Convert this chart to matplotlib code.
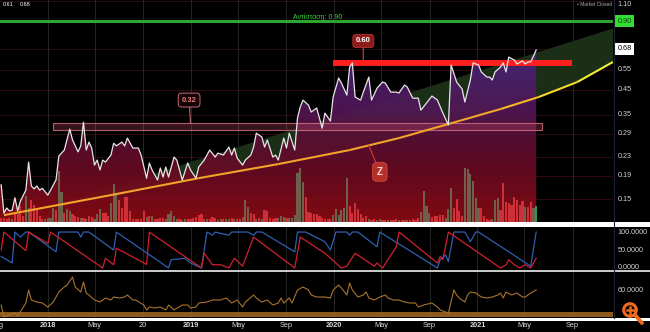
import numpy as np
import pandas as pd
import matplotlib
matplotlib.use("Agg")
import matplotlib.pyplot as plt
import matplotlib.dates as mdates
from matplotlib.colors import LinearSegmentedColormap
from matplotlib.patches import Polygon, Rectangle, Circle
from matplotlib.collections import LineCollection
from matplotlib.transforms import blended_transform_factory

plt.rcParams['font.family'] = ['Liberation Sans', 'DejaVu Sans']

# weekly chart, week 0 = first bar
start = pd.Timestamp("2017-09-04")

# close price (key weekly points)
price_wk = [0, 1, 2, 3, 4, 5, 6, 7, 9, 10, 11, 12, 13, 14, 15, 17, 18, 20, 21, 23,
            25, 26, 28, 29, 30, 31, 32, 33, 34, 35, 36, 37, 38, 40, 41, 42, 44, 45, 46, 48,
            50, 51, 53, 54, 55, 57, 58, 59, 60, 61, 63, 64, 66, 68, 69, 71, 72, 74, 76, 78,
            79, 81, 83, 84, 85, 86, 88, 89, 91, 92, 93, 95, 96, 97, 99, 100, 101, 103, 104, 105,
            107, 108, 109, 110, 112, 113, 115, 117, 118, 120, 121, 123, 124, 126, 127, 128, 129, 131, 132, 134,
            135, 137, 139, 140, 142, 144, 145, 147, 148, 150, 152, 153, 155, 157, 159, 161, 163, 164, 166, 168,
            169, 171, 172, 174, 175, 177, 178, 179, 180, 182, 183, 184, 185, 187, 188, 190, 191, 192, 193, 194,
            195]
price = [0.173, 0.130, 0.137, 0.133, 0.134, 0.152, 0.133, 0.147, 0.164, 0.2175,
         0.171, 0.166, 0.171, 0.164, 0.167, 0.156, 0.164, 0.182, 0.231, 0.2455,
         0.303, 0.272, 0.241, 0.256, 0.325, 0.2455, 0.266, 0.2505, 0.211, 0.222,
         0.201, 0.222, 0.2175, 0.2335, 0.263, 0.256, 0.266, 0.256, 0.277, 0.2505,
         0.2505, 0.2335, 0.185, 0.2154, 0.201, 0.1816, 0.205, 0.187, 0.207, 0.187,
         0.2288, 0.222, 0.1816, 0.2154, 0.201, 0.185, 0.207, 0.222, 0.2455, 0.2288,
         0.238, 0.2335, 0.253, 0.2335, 0.2505, 0.2265, 0.211, 0.222, 0.2335, 0.253,
         0.291, 0.280, 0.253, 0.2716, 0.2288, 0.2335, 0.222, 0.277, 0.2505, 0.291,
         0.2455, 0.339, 0.379, 0.406, 0.386, 0.360, 0.375, 0.306, 0.356, 0.329,
         0.419, 0.507, 0.482, 0.427, 0.566, 0.590, 0.419, 0.406, 0.440, 0.512,
         0.406, 0.458, 0.487, 0.482, 0.440, 0.440, 0.436, 0.4725, 0.463, 0.414,
         0.414, 0.367, 0.394, 0.423, 0.406, 0.356, 0.316, 0.578, 0.487, 0.454,
         0.398, 0.497, 0.590, 0.578, 0.539, 0.512, 0.512, 0.497, 0.539, 0.566,
         0.590, 0.539, 0.626, 0.608, 0.584, 0.602, 0.584, 0.596, 0.596, 0.632,
         0.672]

# weekly volume, week 0..195
volume = [4, 4, 3, 4, 3, 9, 8, 16, 6, 26,
          14, 22, 17, 12, 6, 3, 3, 4, 4, 14,
          12, 51, 30, 9, 13, 11, 8, 6, 5, 4,
          4, 3, 6, 5, 3, 8, 13, 9, 9, 6,
          19, 38, 29, 22, 14, 25, 25, 11, 3, 3,
          3, 3, 11, 5, 6, 6, 3, 3, 4, 4,
          3, 8, 11, 6, 3, 3, 2, 3, 3, 3,
          4, 5, 7, 8, 3, 3, 3, 5, 4, 2,
          3, 3, 3, 3, 4, 3, 3, 3, 5, 22,
          15, 9, 8, 3, 4, 3, 12, 11, 4, 3,
          4, 4, 6, 5, 4, 4, 4, 7, 49, 54,
          40, 25, 10, 9, 8, 8, 6, 4, 3, 3,
          3, 7, 13, 7, 12, 14, 44, 16, 9, 19,
          13, 8, 4, 6, 3, 2, 3, 2, 3, 2,
          2, 2, 2, 2, 3, 2, 2, 2, 2, 2,
          3, 2, 4, 10, 31, 16, 9, 5, 6, 6,
          7, 7, 4, 13, 34, 14, 23, 11, 6, 54,
          53, 48, 41, 24, 14, 14, 6, 3, 2, 3,
          22, 24, 12, 39, 20, 19, 17, 25, 22, 17,
          21, 15, 15, 20, 14, 16]
# u = up week, d = down week, t = current week
vol_dir = ("dddduddddu" "uddddduuuu" "duuduudddu" "dudduuuddd" "uuuddddddd"
           "dddududddd" "uuuuuduudd" "dddddudddu" "uduudududu" "uddududddd"
           "duuuduuuuu" "uddddddddd" "duuuuuuddd" "ddddudduud" "duddduddud"
           "ddduuuuddd" "dduuuddddu" "uuuuuddddu" "uudddddddd" "duddut")

# Aroon (up = blue, down = red)
aroon_up_wk = [0, 4, 5, 7, 9, 10, 20, 21, 28, 29, 30, 32, 41, 42, 61, 62, 67, 69, 73, 74,
               75, 77, 78, 83, 84, 90, 92, 93, 95, 107, 108, 111, 118, 120, 122, 126, 127, 128, 130, 137,
               138, 159, 160, 162, 163, 165, 169, 171, 173, 174, 193, 195]
aroon_up = [32, 14, 100, 86, 100, 100, 45, 100, 100, 86, 100, 100, 50, 100, 0, 23, 27, 14, 0, 50,
            100, 91, 100, 91, 100, 100, 91, 100, 100, 45, 100, 100, 73, 50, 100, 100, 91, 100, 100, 59,
            100, 0, 23, 36, 18, 100, 100, 73, 100, 100, 5, 100]
aroon_dn_wk = [0, 1, 9, 10, 17, 18, 37, 38, 41, 42, 53, 54, 73, 74, 77, 80, 83, 85, 88, 92,
               107, 109, 118, 124, 126, 129, 136, 137, 139, 144, 145, 159, 160, 161, 163, 182, 184, 185, 187, 189,
               191, 193, 195]
aroon_dn = [50, 100, 48, 100, 68, 100, 0, 27, 9, 55, 10, 100, 0, 41, 9, 9, 0, 27, 5, 86,
            0, 86, 41, 0, 5, 41, 5, 14, 0, 59, 100, 14, 32, 23, 100, 0, 9, 23, 9, 0,
            9, 0, 27]

# RSI
rsi_wk = [0, 1, 3, 5, 6, 9, 10, 11, 13, 15, 17, 19, 21, 23, 24, 26, 27, 29, 30, 31,
          32, 34, 36, 38, 40, 41, 43, 45, 46, 48, 49, 52, 53, 54, 56, 58, 60, 61, 63, 66,
          68, 69, 71, 72, 75, 77, 80, 82, 84, 86, 88, 89, 92, 93, 95, 97, 99, 101, 102, 103,
          105, 106, 108, 110, 112, 113, 115, 118, 120, 121, 123, 124, 126, 127, 128, 130, 132, 133, 134, 136,
          138, 140, 141, 143, 145, 147, 149, 151, 152, 154, 157, 159, 160, 162, 163, 165, 166, 167, 169, 170,
          171, 173, 175, 177, 179, 181, 182, 183, 184, 186, 188, 190, 191, 193, 195]
rsi = [30, 6, 10, 14, 8, 34, 60, 40, 36, 34, 26, 36, 56, 66, 70, 86, 66, 56, 76, 54,
       50, 40, 36, 44, 40, 46, 44, 46, 50, 40, 40, 30, 20, 26, 24, 26, 20, 30, 20, 30,
       30, 24, 26, 34, 36, 40, 40, 44, 34, 40, 26, 36, 50, 44, 36, 40, 30, 34, 44, 34,
       44, 34, 60, 66, 60, 50, 46, 46, 44, 60, 70, 64, 50, 74, 60, 46, 50, 56, 44, 40,
       46, 50, 44, 40, 40, 36, 34, 34, 26, 30, 34, 26, 20, 16, 14, 60, 50, 44, 36, 50,
       56, 54, 46, 44, 46, 50, 54, 44, 56, 50, 54, 46, 46, 54, 60]

# drawn objects
curve_wk = [1, 40, 72, 101, 127, 145, 163, 182, 196, 210, 223]
curve_px = [0.1275, 0.156, 0.185, 0.2132, 0.2455, 0.277, 0.319, 0.371, 0.419, 0.487, 0.596]
wedge_wk = [1, 223]
wedge_px = [0.120, 0.835]
resist_wk = [121, 208]
resist_px = 0.59
zone_wk = [19, 197]
zone_px = [0.300, 0.322]
top_line = 0.90

price_ticks = [0.15, 0.19, 0.23, 0.29, 0.35, 0.45, 0.55, 0.68, 0.90, 1.10]
tick_dates = ["2017-09-04", "2018-01-01", "2018-05-01", "2018-09-01", "2019-01-01", "2019-05-01",
              "2019-09-01", "2020-01-01", "2020-05-01", "2020-09-01", "2021-01-01", "2021-05-01",
              "2021-09-01"]
tick_labels = ["g", "2018", "May", "20", "2019", "May", "Sep", "2020", "May", "Sep", "2021", "May", "Sep"]


def wk(w):
    return mdates.date2num(start + pd.to_timedelta(np.asarray(w, dtype=float) * 7, unit="D"))


W, H = 650, 332


def rect(x0, y0, x1, y1):
    return [x0 / W, 1 - y1 / H, (x1 - x0) / W, (y1 - y0) / H]


fig = plt.figure(figsize=(6.5, 3.32), dpi=100, facecolor="black")
ax_bg = fig.add_axes(rect(0, 0, 613, 222))
ax_vol = fig.add_axes(rect(0, 0, 613, 222))
ax = fig.add_axes(rect(0, 0, 613, 222))
ax_ar = fig.add_axes(rect(0, 227, 613, 270))
ax_rsi = fig.add_axes(rect(0, 272, 613, 318))

xlim = (mdates.date2num(pd.Timestamp("2017-09-01")), mdates.date2num(pd.Timestamp("2021-12-13")))
ylim = (0.119, 1.112)
grid_x = [mdates.date2num(pd.Timestamp(d)) for d in tick_dates[1:]]

for a in (ax_bg, ax):
    a.set_yscale("log")
    a.set_xlim(xlim)
    a.set_ylim(ylim)
    a.set_autoscale_on(False)
    a.axis("off")
for a in (ax_vol, ax_ar, ax_rsi):
    a.set_xlim(xlim)
    a.axis("off")

# background: grid, wedge, gradient fill, zone
for p in price_ticks:
    ax_bg.axhline(p, color="#3a0d12", lw=0.6, zorder=0)
for g in grid_x:
    ax_bg.axvline(g, color="#2a2a2a", lw=0.6, zorder=0)

wedge = list(zip(wk(wedge_wk), wedge_px)) + list(zip(wk(curve_wk)[::-1], curve_px[::-1]))
ax_bg.add_patch(Polygon(wedge, closed=True, fc="#1b2f17", ec="none", zorder=1))

cmap = LinearSegmentedColormap.from_list(
    "fill", [(0, "#55298f"), (0.25, "#48237c"), (0.5, "#521755"), (0.62, "#5a0f35"),
             (0.78, "#6a0a22"), (1, "#8e0b12")])
im = ax_bg.imshow(np.linspace(0, 1, 256).reshape(-1, 1), cmap=cmap, extent=(0, 1, 0, 1),
                  transform=ax_bg.transAxes, aspect="auto", origin="upper", zorder=2, alpha=0.92)
px = wk(price_wk)
clip = Polygon(list(zip(px, price)) + [(px[-1], 0.05), (xlim[0], 0.05), (xlim[0], price[0])],
               closed=True, transform=ax_bg.transData, fc="none", ec="none")
ax_bg.add_patch(clip)
im.set_clip_path(clip)

ax_bg.add_patch(Rectangle((wk(zone_wk[0]), zone_px[0]), wk(zone_wk[1]) - wk(zone_wk[0]),
                          zone_px[1] - zone_px[0], fc=(0.8, 0.3, 0.4, 0.28),
                          ec=(0.85, 0.45, 0.52, 0.8), lw=0.8, zorder=3))

# volume
vol_colors = {"u": "#6f6650", "d": "#d4333a", "t": "#26a06a"}
ax_vol.bar(wk(range(len(volume))), volume, width=5.5,
           color=[vol_colors[c] for c in vol_dir], alpha=0.95)
ax_vol.set_ylim(0, 222)

# main overlays
ax.axhline(top_line, color="#2fa52f", lw=2.2, zorder=4)
ax.plot(wk(resist_wk), [resist_px, resist_px], color="#ff1f1f", lw=4.3,
        solid_capstyle="butt", zorder=4)
cx = wk(curve_wk)
segs = [[(cx[i], curve_px[i]), (cx[i + 1], curve_px[i + 1])] for i in range(len(cx) - 1)]
seg_cols = ["#f2a32a"] * 7 + ["#f3b828", "#f2d830", "#f0f038"]
ax.add_collection(LineCollection(segs, colors=seg_cols, linewidths=1.5, zorder=5))
ax.plot(px, price, color="#e6e6e6", lw=0.9, zorder=6)

ax.text(wk(115.3), 0.937, "Αντίσταση: 0.90", color="#3cd23c", fontsize=5,
        ha="center", va="center", zorder=7)
ax.annotate("0.60", xy=(wk(132), 0.61), xytext=(wk(132), 0.736), ha="center", va="center",
            fontsize=5.5, fontweight="bold", color="white", zorder=8,
            bbox=dict(boxstyle="round,pad=0.4", fc="#8e1b1b", ec="#b83030", lw=0.6),
            arrowprops=dict(arrowstyle="-", color="#b83030", lw=1, shrinkA=0, shrinkB=0))
ax.annotate("0.32", xy=(wk(69), 0.322), xytext=(wk(68.5), 0.406), ha="center", va="center",
            fontsize=5.5, fontweight="bold", color="#f07b7b", zorder=8,
            bbox=dict(boxstyle="round,pad=0.45", fc="#140407", ec="#c96b76", lw=0.7),
            arrowprops=dict(arrowstyle="-", color="#c96b76", lw=0.8, shrinkA=0, shrinkB=0))
ax.annotate("Z", xy=(wk(134), 0.257), xytext=(wk(138), 0.197), ha="center", va="center",
            fontsize=7, fontweight="bold", color="#ffd8d0", zorder=8,
            bbox=dict(boxstyle="round,pad=0.45", fc="#b3312a", ec="#d0453a", lw=0.6),
            arrowprops=dict(arrowstyle="-", color="#c0392b", lw=0.9, shrinkA=0, shrinkB=0))

# right price scale
tr = blended_transform_factory(ax.transAxes, ax.transData)
for p in [0.55, 0.45, 0.35, 0.29, 0.23, 0.19, 0.15]:
    ax.text(1.007, p, f"{p:.2f}", transform=tr, ha="left", va="center", fontsize=5.2,
            color="#d0d0d0", clip_on=False)
ax.text(1.007, 1.10, "1.10", transform=tr, ha="left", va="top", fontsize=5.2,
        color="#d0d0d0", clip_on=False)
ax.text(1.007, 0.90, "0.90", transform=tr, ha="left", va="center", fontsize=5.2, color="#0a3a0a",
        clip_on=False, bbox=dict(boxstyle="square,pad=0.3", fc="#33dd33", ec="none"))
ax.text(1.007, 0.68, "0.68", transform=tr, ha="left", va="center", fontsize=5.2, color="black",
        clip_on=False, bbox=dict(boxstyle="square,pad=0.3", fc="white", ec="none"))

# aroon panel
ax_ar.set_ylim(-5.6, 114)
for g in grid_x:
    ax_ar.axvline(g, color="#2a2a2a", lw=0.6, zorder=0)
ax_ar.plot(wk(aroon_up_wk), aroon_up, color="#2f5fb0", lw=0.9)
ax_ar.plot(wk(aroon_dn_wk), aroon_dn, color="#d02030", lw=0.9)
tr_ar = blended_transform_factory(ax_ar.transAxes, ax_ar.transData)
for v, s in [(100, "100.0000"), (50, "50.0000"), (0, "0.0000")]:
    ax_ar.text(1.007, v, s, transform=tr_ar, ha="left", va="center", fontsize=5.2,
               color="#d0d0d0", clip_on=False)

# rsi panel
ax_rsi.set_ylim(4, 96)
for g in grid_x:
    ax_rsi.axvline(g, color="#2a2a2a", lw=0.6, zorder=0)
ax_rsi.axhspan(5.5, 16.5, color="#8e5a1c", lw=0, zorder=1)
ax_rsi.plot(wk(rsi_wk), rsi, color="#a8732c", lw=0.8, zorder=2)
tr_rsi = blended_transform_factory(ax_rsi.transAxes, ax_rsi.transData)
ax_rsi.text(1.007, 60, "60.0000", transform=tr_rsi, ha="left", va="center", fontsize=5.2,
            color="#d0d0d0", clip_on=False)

# date labels
tr_x = blended_transform_factory(ax_rsi.transData, ax_rsi.transAxes)
for d, s in zip(tick_dates, tick_labels):
    ax_rsi.text(mdates.date2num(pd.Timestamp(d)), -0.17, s, transform=tr_x, ha="center",
                va="center", fontsize=5.3, color="#d8d8d8", clip_on=False,
                fontweight="bold" if s.isdigit() and len(s) == 4 else "normal")

# frame pieces, header text, zoom icon
ov = fig.add_axes([0, 0, 1, 1], zorder=10)
ov.set_xlim(0, W)
ov.set_ylim(H, 0)
ov.axis("off")
ov.add_patch(Rectangle((0, 222), W, 4.5, color="white", lw=0))
ov.add_patch(Rectangle((0, 270), W, 2, color="#c8c8c8", lw=0))
ov.add_patch(Rectangle((0, 318.3), W, 2.2, color="white", lw=0))
ov.plot([613.5, 613.5], [0, 318], color="#1e2233", lw=0.8)
ov.text(3, 5, "0.61", color="white", fontsize=4, va="center")
ov.text(20, 5, "0.68", color="white", fontsize=4, va="center")
ov.text(612, 5, "• Market Closed", color="#b0b0b0", fontsize=3.5, ha="right", va="center")
ov.add_patch(Circle((630, 310), 6.3, fill=False, ec="#f06a1e", lw=2.2))
ov.plot([626.5, 633.5], [310, 310], color="#f06a1e", lw=1.8)
ov.plot([630, 630], [306.5, 313.5], color="#f06a1e", lw=1.8)
ov.plot([635, 642], [315, 323], color="#f06a1e", lw=2.8, solid_capstyle="round")

fig.savefig("out.png", dpi=100, facecolor="black")
